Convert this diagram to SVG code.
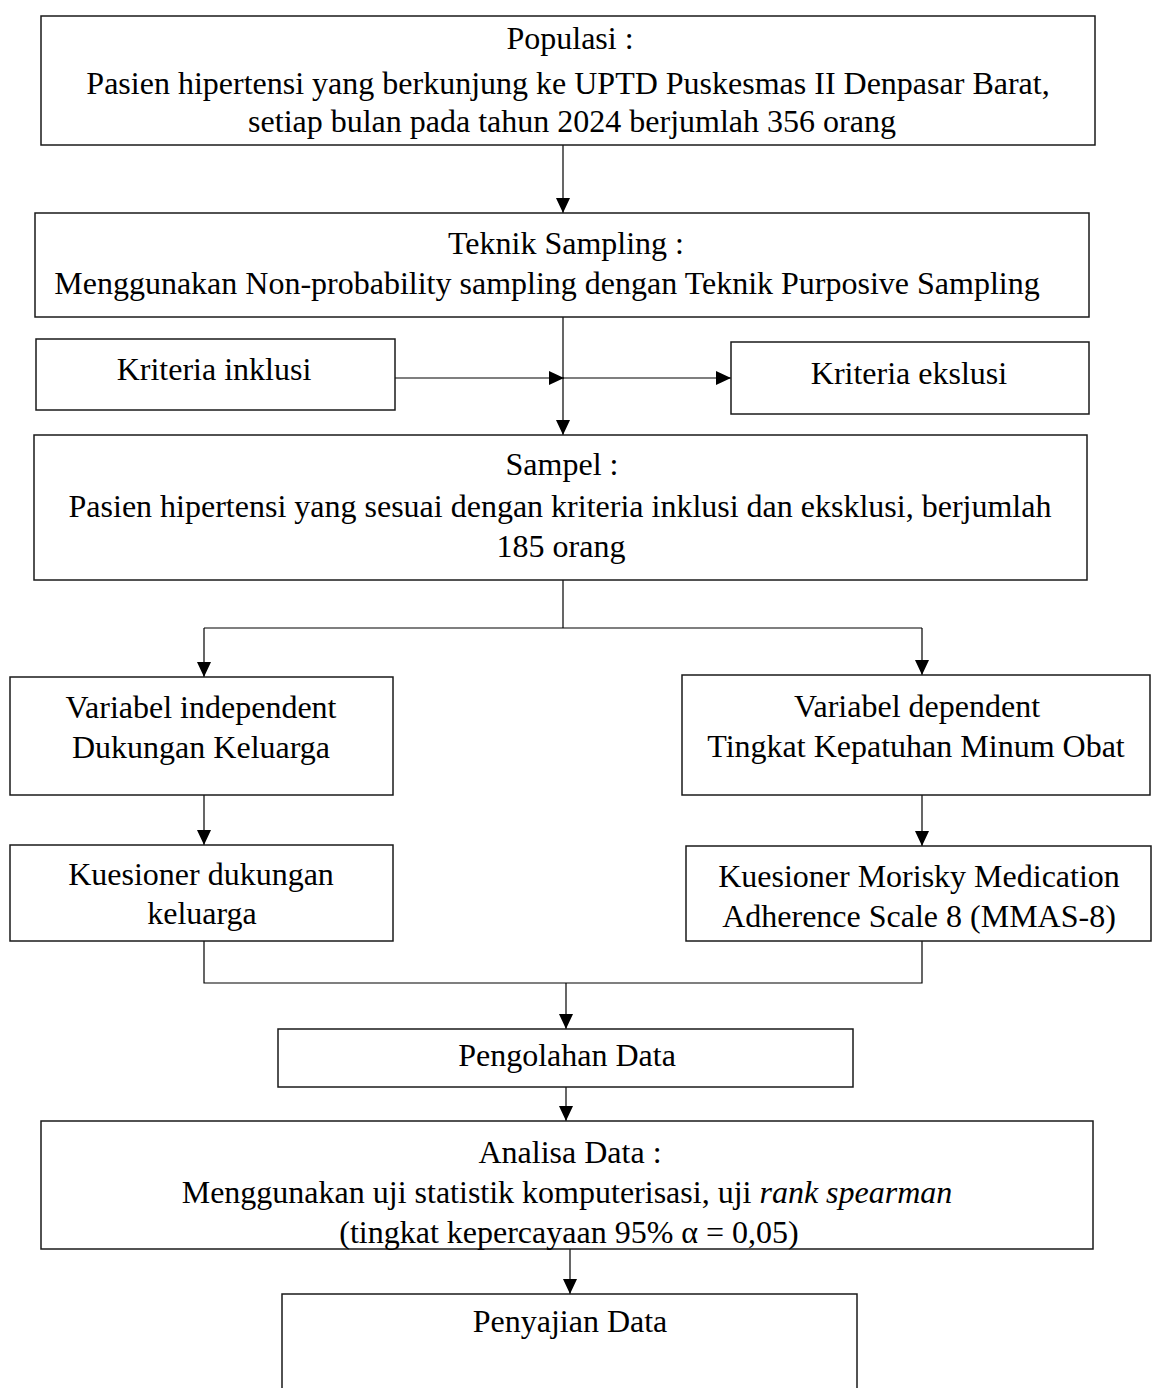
<svg xmlns="http://www.w3.org/2000/svg" width="1153" height="1388" viewBox="0 0 1153 1388">
<style>
.box{fill:#fff;stroke:#1a1a1a;stroke-width:1.5}
.t{font-family:"Liberation Serif","Times New Roman",serif;font-size:32px;fill:#000;text-anchor:middle}
.c{fill:none;stroke:#000;stroke-width:1.2}
</style>
<defs>
<marker id="ah" markerUnits="userSpaceOnUse" markerWidth="16" markerHeight="14" refX="15" refY="7" orient="auto">
<path d="M0,0 L15,7 L0,14 Z" fill="#000"/>
</marker>
</defs>
<rect width="1153" height="1388" fill="#fff"/>
<g id="connectors">
<line class="c" x1="563" y1="145" x2="563" y2="213" marker-end="url(#ah)"/>
<line class="c" x1="563" y1="317" x2="563" y2="435" marker-end="url(#ah)"/>
<line class="c" x1="395" y1="378" x2="564" y2="378" marker-end="url(#ah)"/>
<line class="c" x1="563" y1="378" x2="731" y2="378" marker-end="url(#ah)"/>
<polyline class="c" points="563,580 563,628"/>
<line class="c" x1="204" y1="628" x2="922" y2="628"/>
<line class="c" x1="204" y1="628" x2="204" y2="677" marker-end="url(#ah)"/>
<line class="c" x1="922" y1="628" x2="922" y2="675" marker-end="url(#ah)"/>
<line class="c" x1="204" y1="795" x2="204" y2="845" marker-end="url(#ah)"/>
<line class="c" x1="922" y1="795" x2="922" y2="846" marker-end="url(#ah)"/>
<polyline class="c" points="204,941 204,983 922,983 922,941"/>
<line class="c" x1="566" y1="983" x2="566" y2="1029" marker-end="url(#ah)"/>
<line class="c" x1="566" y1="1087" x2="566" y2="1121" marker-end="url(#ah)"/>
<line class="c" x1="570" y1="1249" x2="570" y2="1294" marker-end="url(#ah)"/>
</g>
<g id="populasi">
<rect class="box" x="41" y="16" width="1054" height="129"/>
<text class="t" x="570" y="49">Populasi :</text>
<text class="t" x="568" y="94">Pasien hipertensi yang berkunjung ke UPTD Puskesmas II Denpasar Barat,</text>
<text class="t" x="572" y="132">setiap bulan pada tahun 2024 berjumlah 356 orang</text>
</g>
<g id="teknik">
<rect class="box" x="35" y="213" width="1054" height="104"/>
<text class="t" x="566" y="254">Teknik Sampling :</text>
<text class="t" x="547" y="294">Menggunakan Non-probability sampling dengan Teknik Purposive Sampling</text>
</g>
<g id="inklusi">
<rect class="box" x="36" y="339" width="359" height="71"/>
<text class="t" x="214" y="380">Kriteria inklusi</text>
</g>
<g id="ekslusi">
<rect class="box" x="731" y="342" width="358" height="72"/>
<text class="t" x="909" y="384">Kriteria ekslusi</text>
</g>
<g id="sampel">
<rect class="box" x="34" y="435" width="1053" height="145"/>
<text class="t" x="562" y="475">Sampel :</text>
<text class="t" x="560" y="517">Pasien hipertensi yang sesuai dengan kriteria inklusi dan eksklusi, berjumlah</text>
<text class="t" x="561" y="557">185 orang</text>
</g>
<g id="independent">
<rect class="box" x="10" y="677" width="383" height="118"/>
<text class="t" x="201" y="718">Variabel independent</text>
<text class="t" x="201" y="758">Dukungan Keluarga</text>
</g>
<g id="dependent">
<rect class="box" x="682" y="675" width="468" height="120"/>
<text class="t" x="917" y="717">Variabel dependent</text>
<text class="t" x="916" y="757">Tingkat Kepatuhan Minum Obat</text>
</g>
<g id="kuesioner1">
<rect class="box" x="10" y="845" width="383" height="96"/>
<text class="t" x="201" y="885">Kuesioner dukungan</text>
<text class="t" x="202" y="924">keluarga</text>
</g>
<g id="kuesioner2">
<rect class="box" x="686" y="846" width="465" height="95"/>
<text class="t" x="919" y="887">Kuesioner Morisky Medication</text>
<text class="t" x="919" y="927">Adherence Scale 8 (MMAS-8)</text>
</g>
<g id="pengolahan">
<rect class="box" x="278" y="1029" width="575" height="58"/>
<text class="t" x="567" y="1066">Pengolahan Data</text>
</g>
<g id="analisa">
<rect class="box" x="41" y="1121" width="1052" height="128"/>
<text class="t" x="570" y="1163">Analisa Data :</text>
<text class="t" x="567" y="1203">Menggunakan uji statistik komputerisasi, uji <tspan font-style="italic">rank spearman</tspan></text>
<text class="t" x="569" y="1243">(tingkat kepercayaan 95% α = 0,05)</text>
</g>
<g id="penyajian">
<rect class="box" x="282" y="1294" width="575" height="120"/>
<text class="t" x="570" y="1332">Penyajian Data</text>
</g>
</svg>
